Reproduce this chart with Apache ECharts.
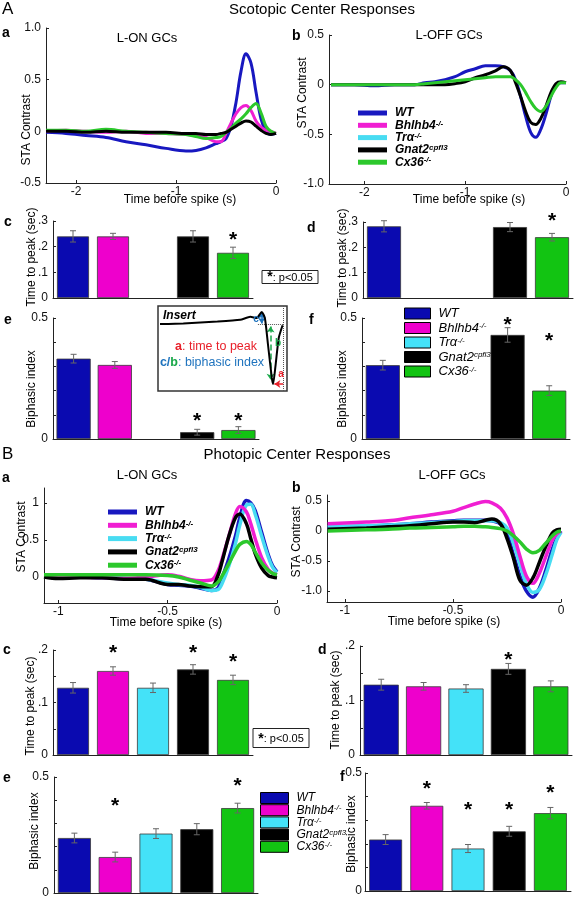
<!DOCTYPE html>
<html><head><meta charset="utf-8">
<script src="https://cdn.jsdelivr.net/npm/echarts@6/dist/echarts.min.js"></script>
<style>html,body{margin:0;padding:0;background:#fff}#c{width:574px;height:900px}</style>
</head><body><div id="c"></div>
<script>
// ================= DATA =================
const genotypes = ['WT', 'Bhlhb4', 'Trα', 'Gnat2', 'Cx36'];

// --- A a: scotopic L-ON STA traces ---
const tScoOn = [-2.3,-2.1,-1.9,-1.7,-1.5,-1.3,-1.1,-0.9,-0.8,-0.7,-0.6,-0.55,-0.5,-0.45,-0.4,-0.35,-0.3,-0.25,-0.2,-0.15,-0.1,-0.05,0];
const scoOnWT     = [-0.01,-0.02,-0.04,-0.06,-0.1,-0.13,-0.165,-0.19,-0.185,-0.16,-0.12,-0.1,-0.07,0.05,0.28,0.58,0.75,0.66,0.38,0.12,0.0,-0.03,-0.02];
const scoOnBhlhb4 = [0.0,0.01,0.0,-0.01,0.0,-0.02,-0.02,-0.03,-0.04,-0.06,-0.1,-0.1,-0.02,0.08,0.17,0.23,0.25,0.2,0.1,0.04,0.01,0.0,-0.02];
const scoOnGnat2  = [0.0,0.0,-0.01,0.0,-0.01,-0.01,-0.01,-0.02,-0.02,-0.03,-0.03,-0.02,-0.01,0.02,0.05,0.08,0.1,0.09,0.05,0.01,-0.02,-0.03,-0.02];
const scoOnCx36   = [0.01,0.01,0.0,0.02,0.0,-0.01,-0.02,-0.03,-0.05,-0.07,-0.06,-0.05,-0.01,0.03,0.08,0.12,0.17,0.23,0.27,0.18,0.05,0.0,-0.02];

// --- A b: scotopic L-OFF STA traces ---
const tScoOff = [-2.33,-2.1,-1.9,-1.7,-1.5,-1.4,-1.3,-1.2,-1.1,-1.0,-0.9,-0.8,-0.7,-0.62,-0.55,-0.5,-0.45,-0.4,-0.35,-0.3,-0.25,-0.2,-0.15,-0.1,-0.05,0];
const scoOffWT    = [0.0,0.0,-0.01,0.0,0.0,0.02,0.03,0.05,0.08,0.13,0.16,0.19,0.19,0.18,0.14,0.05,-0.12,-0.32,-0.48,-0.53,-0.45,-0.3,-0.12,0.0,0.02,0.02];
const scoOffGnat2 = [0.0,0.0,0.0,0.0,0.0,0.0,0.0,0.0,0.01,0.03,0.07,0.1,0.14,0.18,0.14,0.02,-0.12,-0.27,-0.38,-0.4,-0.34,-0.22,-0.08,0.01,0.03,0.02];
const scoOffCx36  = [0.0,0.0,0.0,0.0,0.0,0.01,0.02,0.03,0.04,0.05,0.06,0.07,0.08,0.08,0.08,0.05,0.0,-0.08,-0.17,-0.24,-0.27,-0.22,-0.12,-0.03,0.02,0.02];

// --- B a: photopic L-ON STA traces ---
const tPhoOn = [-1.065,-1.0,-0.9,-0.8,-0.7,-0.6,-0.5,-0.45,-0.4,-0.35,-0.3,-0.27,-0.25,-0.22,-0.19,-0.17,-0.14,-0.12,-0.1,-0.07,-0.04,-0.02,0];
const phoOnWT     = [0.0,0.0,0.0,-0.01,-0.02,-0.03,-0.1,-0.11,-0.12,-0.15,-0.18,-0.15,0.0,0.25,0.55,0.8,1.03,1.0,0.9,0.6,0.3,0.15,0.07];
const phoOnBhlhb4 = [0.02,0.01,0.0,-0.01,-0.02,0.0,0.03,0.01,-0.03,-0.05,-0.04,0.08,0.25,0.55,0.85,0.95,0.88,0.72,0.52,0.26,0.1,0.05,0.03];
const phoOnTra    = [0.0,0.0,0.0,-0.01,-0.02,-0.03,-0.08,-0.1,-0.11,-0.14,-0.18,-0.17,-0.08,0.15,0.45,0.7,0.97,0.98,0.85,0.55,0.27,0.13,0.06];
const phoOnGnat2  = [0.0,-0.02,-0.01,-0.01,-0.03,-0.03,-0.1,-0.1,-0.12,-0.13,-0.13,0.02,0.22,0.55,0.8,0.85,0.72,0.52,0.32,0.12,0.02,0.0,-0.01];
const phoOnCx36   = [0.03,0.03,0.03,0.03,0.03,0.03,0.02,0.0,-0.04,-0.08,-0.12,-0.07,0.02,0.18,0.35,0.44,0.48,0.44,0.34,0.19,0.09,0.05,0.03];

// --- B b: photopic L-OFF STA traces ---
const tPhoOff = [-1.08,-0.9,-0.8,-0.7,-0.6,-0.5,-0.45,-0.4,-0.35,-0.32,-0.28,-0.25,-0.22,-0.19,-0.16,-0.13,-0.1,-0.07,-0.04,-0.02,0];
const phoOffWT     = [0.06,0.08,0.1,0.12,0.15,0.17,0.18,0.18,0.18,0.17,0.12,-0.05,-0.4,-0.75,-1.0,-1.1,-0.95,-0.65,-0.3,-0.12,0.0];
const phoOffBhlhb4 = [0.12,0.15,0.17,0.22,0.27,0.33,0.39,0.45,0.49,0.47,0.38,0.22,-0.05,-0.42,-0.75,-0.87,-0.7,-0.42,-0.15,-0.05,0.0];
const phoOffTra    = [0.07,0.09,0.1,0.12,0.14,0.16,0.17,0.17,0.17,0.17,0.14,0.05,-0.2,-0.55,-0.88,-1.02,-0.97,-0.72,-0.38,-0.15,-0.02];
const phoOffGnat2  = [0.03,0.05,0.07,0.09,0.12,0.15,0.15,0.14,0.18,0.2,0.12,-0.12,-0.45,-0.82,-0.9,-0.78,-0.52,-0.25,-0.03,0.02,0.03];
const phoOffCx36   = [0.0,0.02,0.03,0.05,0.06,0.07,0.08,0.08,0.07,0.06,0.04,0.0,-0.08,-0.18,-0.3,-0.36,-0.32,-0.2,-0.08,-0.02,0.0];

// --- Insert schematic trace ---
const tInsert = [-0.984,-0.8,-0.53,-0.35,-0.27,-0.22,-0.18,-0.155,-0.13,-0.1,-0.09,-0.07,-0.045,-0.015];
const vInsert = [0.0,0.01,0.04,0.07,0.12,0.1,0.2,0.1,-0.35,-0.9,-1.0,-0.68,-0.23,-0.02];

// --- Bar data (mean, SEM), order = genotypes; null = not tested ---
const scoOnPeak     = [0.24, 0.24, null, 0.24, 0.176];
const scoOnPeakErr  = [0.022, 0.012, null, 0.022, 0.022];
const scoOffPeak    = [0.283, null, null, 0.28, 0.24];
const scoOffPeakErr = [0.022, null, null, 0.018, 0.015];
const scoOnBi       = [0.332, 0.306, null, 0.028, 0.037];
const scoOnBiErr    = [0.018, 0.014, null, 0.012, 0.014];
const scoOffBi      = [0.305, null, null, 0.43, 0.20];
const scoOffBiErr   = [0.02, null, null, 0.03, 0.02];
const phoOnPeak     = [0.128, 0.16, 0.128, 0.163, 0.143];
const phoOnPeakErr  = [0.01, 0.008, 0.009, 0.009, 0.009];
const phoOffPeak    = [0.129, 0.126, 0.122, 0.158, 0.126];
const phoOffPeakErr = [0.01, 0.007, 0.007, 0.01, 0.01];
const phoOnBi       = [0.237, 0.155, 0.256, 0.275, 0.366];
const phoOnBiErr    = [0.021, 0.021, 0.021, 0.024, 0.021];
const phoOffBi      = [0.218, 0.361, 0.18, 0.253, 0.33];
const phoOffBiErr   = [0.021, 0.014, 0.017, 0.021, 0.024];

// significance marks: [category index, level]
const sigScoOnPeak  = [[4, 0.25]];
const sigScoOffPeak = [[4, 0.325]];
const sigScoOnBi    = [[3, 0.1], [4, 0.1]];
const sigScoOffBi   = [[3, 0.496], [4, 0.43]];
const sigPhoOnPeak  = [[1, 0.206], [3, 0.206], [4, 0.189]];
const sigPhoOffPeak = [[3, 0.185]];
const sigPhoOnBi    = [[1, 0.4], [4, 0.486]];
const sigPhoOffBi   = [[1, 0.458], [2, 0.368], [3, 0.368], [4, 0.44]];

// axis tick / label values
const peakTicksSco  = [0, 0.1, 0.2, 0.3];
const peakTicksPho  = [0, 0.05, 0.1, 0.15, 0.2];
const peakLabelsPho = [0, 0.1, 0.2];
const biTicks       = [0, 0.1, 0.2, 0.3, 0.4, 0.5];
const biLabels      = [0, 0.5];

// ================= STYLE =================
const FONT = 'Liberation Sans, Arial, sans-serif';
const lineColors = ['#1818c0', '#f01ed2', '#48dcf2', '#000000', '#2cc82c'];
const barColors  = ['#0a0ab0', '#ee00cc', '#44e2f8', '#000000', '#12c412'];
const supLabel = {
  'WT': '{n|WT}', 'Bhlhb4': '{n|Bhlhb4}{s|-/-}', 'Trα': '{n|Trα}{s|-/-}',
  'Gnat2': '{n|Gnat2}{s|cpfl3}', 'Cx36': '{n|Cx36}{s|-/-}'
};

const gridBox = [
  {left: 46, top: 28, width: 230, height: 155},    // 0 A a
  {left: 329, top: 35, width: 237, height: 149},   // 1 A b
  {left: 53, top: 221, width: 200, height: 77},    // 2 A c
  {left: 363, top: 222, width: 210, height: 76},   // 3 A d
  {left: 53, top: 318, width: 206, height: 121},   // 4 A e
  {left: 362, top: 318, width: 208, height: 121},  // 5 A f
  {left: 158, top: 306, width: 129, height: 85},   // 6 insert
  {left: 44, top: 488, width: 233, height: 115},   // 7 B a
  {left: 327, top: 495, width: 234, height: 107},  // 8 B b
  {left: 53, top: 650, width: 200, height: 105},   // 9 B c
  {left: 360, top: 646, width: 212, height: 109},  // 10 B d
  {left: 54, top: 777, width: 204, height: 116},   // 11 B e
  {left: 365, top: 773, width: 206, height: 118}   // 12 B f
];
const grids = gridBox.map((g, i) => Object.assign({containLabel: false, outerBoundsMode: 'none',
  show: i === 6, borderColor: '#333', borderWidth: 1.5, backgroundColor: i === 6 ? '#fff' : 'transparent', z: i === 6 ? 4 : 2}, g));

const axLine = {show: true, onZero: false, lineStyle: {color: '#222', width: 1}};
const axTick = {show: true, inside: true, length: 3, lineStyle: {color: '#222', width: 1}};
const axLabel = {color: '#111', fontSize: 12, fontFamily: FONT, hideOverlap: false};

function valX(gi, min, max, ticks) {
  return {type: 'value', gridIndex: gi, min, max, position: 'bottom', axisLine: axLine,
    axisTick: Object.assign({}, axTick, {customValues: ticks}),
    axisLabel: Object.assign({}, axLabel, {customValues: ticks, margin: 3}),
    splitLine: {show: false}};
}
function valY(gi, min, max, ticks, labels, fmt, margin) {
  return {type: 'value', gridIndex: gi, min, max, position: 'left', axisLine: axLine,
    axisTick: Object.assign({}, axTick, {customValues: ticks}),
    axisLabel: Object.assign({}, axLabel, {customValues: labels, margin: margin || 5, formatter: fmt}),
    splitLine: {show: false}};
}
function catX(gi) {
  return {type: 'category', gridIndex: gi, data: genotypes, position: 'bottom', axisLine: axLine,
    axisTick: {show: false}, axisLabel: {show: false}, splitLine: {show: false}};
}
const fmt1 = v => (Math.abs(v) < 1e-9 ? '0' : v.toFixed(1));
const fmtDot = v => (Math.abs(v) < 1e-9 ? '0' : v.toFixed(1).replace(/^0/, ''));
const fmtBi = v => (Math.abs(v) < 1e-9 ? '0' : v.toFixed(1));

const xAxes = [
  valX(0, -2.3, 0, [-2, -1, 0]),
  valX(1, -2.35, 0, [-2, -1, 0]),
  catX(2), catX(3), catX(4), catX(5),
  {type: 'value', gridIndex: 6, min: -1, max: 0.02, show: false},
  valX(7, -1.065, 0, [-1, -0.5, 0]),
  valX(8, -1.083, 0, [-1, -0.5, 0]),
  catX(9), catX(10), catX(11), catX(12)
];
const yAxes = [
  valY(0, -0.5, 1.0, [-0.5, 0, 0.5, 1.0], [-0.5, 0, 0.5, 1.0], fmt1),
  valY(1, -1.0, 0.5, [-1.0, -0.5, 0, 0.5], [-1.0, -0.5, 0, 0.5], fmt1),
  valY(2, 0, 0.3, peakTicksSco, peakTicksSco, fmtDot),
  valY(3, 0, 0.3, peakTicksSco, peakTicksSco, fmtDot),
  valY(4, 0, 0.5, biTicks, biLabels, fmtBi),
  valY(5, 0, 0.5, biTicks, biLabels, fmtBi),
  {type: 'value', gridIndex: 6, min: -1.117, max: 0.3, show: false},
  valY(7, -0.35, 1.2, [0, 0.5, 1], [0, 0.5, 1], v => (v === 0 ? '0' : String(v))),
  valY(8, -1.18, 0.6, [-1.0, -0.5, 0, 0.5], [-1.0, -0.5, 0, 0.5], fmt1),
  valY(9, 0, 0.2, peakTicksPho, peakLabelsPho, fmtDot),
  valY(10, 0, 0.2, peakTicksPho, peakLabelsPho, fmtDot),
  valY(11, 0, 0.5, biTicks, biLabels, fmtBi),
  valY(12, 0, 0.5, biTicks, biLabels, fmtBi, 3)
];

// ================= SERIES =================
const series = [];
function addLine(gi, name, t, v, width) {
  const ci = genotypes.indexOf(name);
  series.push({type: 'line', name, xAxisIndex: gi, yAxisIndex: gi, data: t.map((x, i) => [x, v[i]]),
    smooth: 0.35, symbol: 'none', showSymbol: false, silent: true,
    lineStyle: {color: lineColors[ci], width}, itemStyle: {color: lineColors[ci]}});
}
addLine(0, 'WT', tScoOn, scoOnWT, 3);
addLine(0, 'Bhlhb4', tScoOn, scoOnBhlhb4, 3);
addLine(0, 'Cx36', tScoOn, scoOnCx36, 3);
addLine(0, 'Gnat2', tScoOn, scoOnGnat2, 3);
addLine(1, 'WT', tScoOff, scoOffWT, 3);
addLine(1, 'Gnat2', tScoOff, scoOffGnat2, 3);
addLine(1, 'Cx36', tScoOff, scoOffCx36, 3);
addLine(7, 'WT', tPhoOn, phoOnWT, 3.5);
addLine(7, 'Trα', tPhoOn, phoOnTra, 3.5);
addLine(7, 'Bhlhb4', tPhoOn, phoOnBhlhb4, 3.5);
addLine(7, 'Gnat2', tPhoOn, phoOnGnat2, 3.5);
addLine(7, 'Cx36', tPhoOn, phoOnCx36, 3.5);
addLine(8, 'WT', tPhoOff, phoOffWT, 3.5);
addLine(8, 'Trα', tPhoOff, phoOffTra, 3.5);
addLine(8, 'Bhlhb4', tPhoOff, phoOffBhlhb4, 3.5);
addLine(8, 'Gnat2', tPhoOff, phoOffGnat2, 3.5);
addLine(8, 'Cx36', tPhoOff, phoOffCx36, 3.5);

function addBars(gi, vals, errs, sig, gap) {
  series.push({type: 'bar', xAxisIndex: gi, yAxisIndex: gi, silent: true, barCategoryGap: gap,
    data: vals.map((v, i) => v == null ? '-' : {value: v, itemStyle: {color: barColors[i], borderColor: '#3a3a3a', borderWidth: 0.8}})});
  series.push({type: 'custom', xAxisIndex: gi, yAxisIndex: gi, silent: true, z: 5,
    data: vals.map((v, i) => v == null ? null : [i, v, errs[i]]).filter(d => d),
    renderItem(p, api) {
      const x = api.value(0), m = api.value(1), e = api.value(2);
      const a = api.coord([x, m + e]), b = api.coord([x, m - e]);
      const st = {stroke: '#666', lineWidth: 1};
      return {type: 'group', children: [
        {type: 'line', shape: {x1: a[0], y1: a[1], x2: b[0], y2: b[1]}, style: st},
        {type: 'line', shape: {x1: a[0] - 3, y1: a[1], x2: a[0] + 3, y2: a[1]}, style: st},
        {type: 'line', shape: {x1: b[0] - 3, y1: b[1], x2: b[0] + 3, y2: b[1]}, style: st}
      ]};
    }});
  series.push({type: 'custom', xAxisIndex: gi, yAxisIndex: gi, silent: true, z: 6, clip: false,
    data: sig,
    renderItem(p, api) {
      const c = api.coord([api.value(0), api.value(1)]);
      return {type: 'text', x: c[0], y: c[1] + 6,
        style: {text: '*', fontSize: 21, fontWeight: 'bold', fontFamily: FONT, fill: '#000', align: 'center', verticalAlign: 'middle'}};
    }});
}
addBars(2, scoOnPeak, scoOnPeakErr, sigScoOnPeak, '20%');
addBars(3, scoOffPeak, scoOffPeakErr, sigScoOffPeak, '19%');
addBars(4, scoOnBi, scoOnBiErr, sigScoOnBi, '17%');
addBars(5, scoOffBi, scoOffBiErr, sigScoOffBi, '18%');
addBars(9, phoOnPeak, phoOnPeakErr, sigPhoOnPeak, '20%');
addBars(10, phoOffPeak, phoOffPeakErr, sigPhoOffPeak, '17%');
addBars(11, phoOnBi, phoOnBiErr, sigPhoOnBi, '19%');
addBars(12, phoOffBi, phoOffBiErr, sigPhoOffBi, '20%');

// insert schematic
const dotted = {type: 'dotted', color: '#555', width: 1};
series.push({type: 'line', xAxisIndex: 6, yAxisIndex: 6, z: 5, silent: true,
  data: tInsert.map((x, i) => [x, vInsert[i]]), smooth: 0.2, symbol: 'none',
  lineStyle: {color: '#000', width: 2},
  markLine: {silent: true, animation: false, symbol: 'none', label: {show: false}, data: [
    [{coord: [-0.21, 0], lineStyle: dotted}, {coord: [-0.01, 0]}],
    [{coord: [-0.01, 0.3], lineStyle: dotted}, {coord: [-0.01, -1.117]}],
    [{coord: [-0.18, 0.01], symbol: 'arrow', symbolSize: 6, lineStyle: {color: '#1e73be', width: 1.5, type: 'solid'}}, {coord: [-0.18, 0.19], symbol: 'arrow', symbolSize: 6}],
    [{coord: [-0.11, -0.04], symbol: 'arrow', symbolSize: 6, lineStyle: {color: '#1aa84a', width: 1.5, type: 'dashed'}}, {coord: [-0.11, -0.93], symbol: 'arrow', symbolSize: 6}],
    [{coord: [-0.08, -1.0], symbol: 'arrow', symbolSize: 6, lineStyle: {color: '#e8202a', width: 1.5, type: 'solid'}}, {coord: [-0.01, -1.0], symbol: 'none'}]
  ]}});

// ================= LEGENDS =================
function legendItems(colors, border) {
  return genotypes.map((g, i) => ({name: g, icon: 'rect',
    itemStyle: {color: colors[i], borderColor: border ? '#000' : colors[i], borderWidth: border ? 1 : 0}}));
}
function legendText(size, bold) {
  return {color: '#000', fontFamily: FONT, padding: [0, 0, 0, 3],
    rich: {
      n: {fontSize: size, fontStyle: 'italic', fontWeight: bold ? 'bold' : 'normal', lineHeight: 12, fontFamily: FONT, color: '#000'},
      s: {fontSize: 8, fontStyle: 'italic', fontWeight: bold ? 'bold' : 'normal', lineHeight: 6, verticalAlign: 'top', fontFamily: FONT, color: '#000'}
    }};
}
const legends = [
  {data: legendItems(lineColors, false), left: 358, top: 107, orient: 'vertical', itemWidth: 29, itemHeight: 5, itemGap: 0.3,
    padding: 0, selectedMode: false, formatter: n => supLabel[n], textStyle: legendText(12, true)},
  {data: legendItems(barColors, true), left: 404, top: 307, orient: 'vertical', itemWidth: 26, itemHeight: 11, itemGap: 1.5,
    padding: 0, selectedMode: false, formatter: n => supLabel[n], textStyle: legendText(13, false)},
  {data: legendItems(lineColors, false), left: 108, top: 506, orient: 'vertical', itemWidth: 29, itemHeight: 5, itemGap: 1.3,
    padding: 0, selectedMode: false, formatter: n => supLabel[n], textStyle: legendText(12, true)},
  {data: legendItems(barColors, true), left: 260, top: 792, orient: 'vertical', itemWidth: 28, itemHeight: 11, itemGap: 0.2,
    padding: 0, selectedMode: false, formatter: n => supLabel[n], textStyle: legendText(12, false)}
];

// ================= TEXT =================
function txt(text, x, y, size, opts) {
  opts = opts || {};
  return {type: 'text', x, y, rotation: opts.rot ? Math.PI / 2 : 0, z: 100, silent: true,
    style: {text, fontSize: size, fontFamily: FONT, fontWeight: opts.bold ? 'bold' : 'normal',
      fontStyle: opts.italic ? 'italic' : 'normal', fill: opts.color || '#000',
      align: opts.align || 'center', verticalAlign: 'middle', rich: opts.rich}};
}
const graphics = [
  txt('A', 2, 9, 17, {align: 'left'}),
  txt('Scotopic Center Responses', 322, 10, 15),
  txt('B', 2, 454, 17, {align: 'left'}),
  txt('Photopic Center Responses', 297, 455, 15),
  txt('L-ON GCs', 147, 38, 13), txt('L-OFF GCs', 449, 35, 13),
  txt('L-ON GCs', 147, 475, 13), txt('L-OFF GCs', 452, 475, 13),
  txt('a', 2, 33, 14, {bold: true, align: 'left'}), txt('b', 292, 36, 14, {bold: true, align: 'left'}),
  txt('c', 4, 222, 14, {bold: true, align: 'left'}), txt('d', 307, 228, 14, {bold: true, align: 'left'}),
  txt('e', 4, 320, 14, {bold: true, align: 'left'}), txt('f', 309, 320, 14, {bold: true, align: 'left'}),
  txt('a', 2, 478, 14, {bold: true, align: 'left'}), txt('b', 292, 488, 14, {bold: true, align: 'left'}),
  txt('c', 3, 650, 14, {bold: true, align: 'left'}), txt('d', 318, 650, 14, {bold: true, align: 'left'}),
  txt('e', 3, 778, 14, {bold: true, align: 'left'}), txt('f', 340, 777, 14, {bold: true, align: 'left'}),
  txt('STA Contrast', 27, 130, 12, {rot: true}), txt('STA Contrast', 303, 93, 12, {rot: true}),
  txt('Time before spike (s)', 180, 200, 12), txt('Time before spike (s)', 469, 200, 12),
  txt('Time to peak (sec)', 32, 257, 12, {rot: true}), txt('Time to peak (sec)', 343, 258, 12, {rot: true}),
  txt('Biphasic index', 32, 389, 12, {rot: true}), txt('Biphasic index', 343, 389, 12, {rot: true}),
  txt('STA Contrast', 22, 537, 12, {rot: true}), txt('STA Contrast', 297, 542, 12, {rot: true}),
  txt('Time before spike (s)', 166, 623, 12), txt('Time before spike (s)', 444, 622, 12),
  txt('Time to peak (sec)', 31, 706, 12, {rot: true}), txt('Time to peak (sec)', 336, 700, 12, {rot: true}),
  txt('Biphasic index', 35, 831, 12, {rot: true}), txt('Biphasic index', 352, 834, 12, {rot: true}),
  // p<0.05 boxes
  {type: 'rect', shape: {x: 262, y: 270.5, width: 56, height: 13}, style: {fill: '#fff', stroke: '#222', lineWidth: 1}, z: 99, silent: true},
  txt('{st|*}: p<0.05', 290, 277.5, 11, {rich: {st: {fontSize: 14, fontWeight: 'bold', fontFamily: FONT}}}),
  {type: 'rect', shape: {x: 253, y: 728.5, width: 56, height: 19}, style: {fill: '#fff', stroke: '#222', lineWidth: 1}, z: 99, silent: true},
  txt('{st|*}: p<0.05', 281, 739, 11, {rich: {st: {fontSize: 14, fontWeight: 'bold', fontFamily: FONT}}}),
  // insert annotations
  txt('Insert', 163, 316, 12, {bold: true, italic: true, align: 'left'}),
  txt('{r|a}{r2|: time to peak}', 216, 347, 12.5, {rich: {r: {fill: '#e8202a', fontWeight: 'bold', fontSize: 12.5, fontFamily: FONT}, r2: {fill: '#e8202a', fontSize: 12.5, fontFamily: FONT}}}),
  txt('{c|c}{c|/}{g|b}{c2|: biphasic index}', 212, 363, 12.5, {rich: {c: {fill: '#1e73be', fontWeight: 'bold', fontSize: 12.5, fontFamily: FONT}, g: {fill: '#1aa84a', fontWeight: 'bold', fontSize: 12.5, fontFamily: FONT}, c2: {fill: '#1e73be', fontSize: 12.5, fontFamily: FONT}}}),
  txt('c', 256, 319, 10, {color: '#1e73be', bold: true}),
  txt('b', 278, 343, 10, {color: '#1aa84a', bold: true}),
  txt('a', 281, 374, 10, {color: '#e8202a', bold: true})
];

const chart = echarts.init(document.getElementById('c'), null, {renderer: 'canvas'});
chart.setOption({
  animation: false,
  backgroundColor: '#fff',
  textStyle: {fontFamily: FONT},
  tooltip: {show: false},
  grid: grids,
  xAxis: xAxes,
  yAxis: yAxes,
  legend: legends,
  series,
  graphic: graphics
});
</script></body></html>
